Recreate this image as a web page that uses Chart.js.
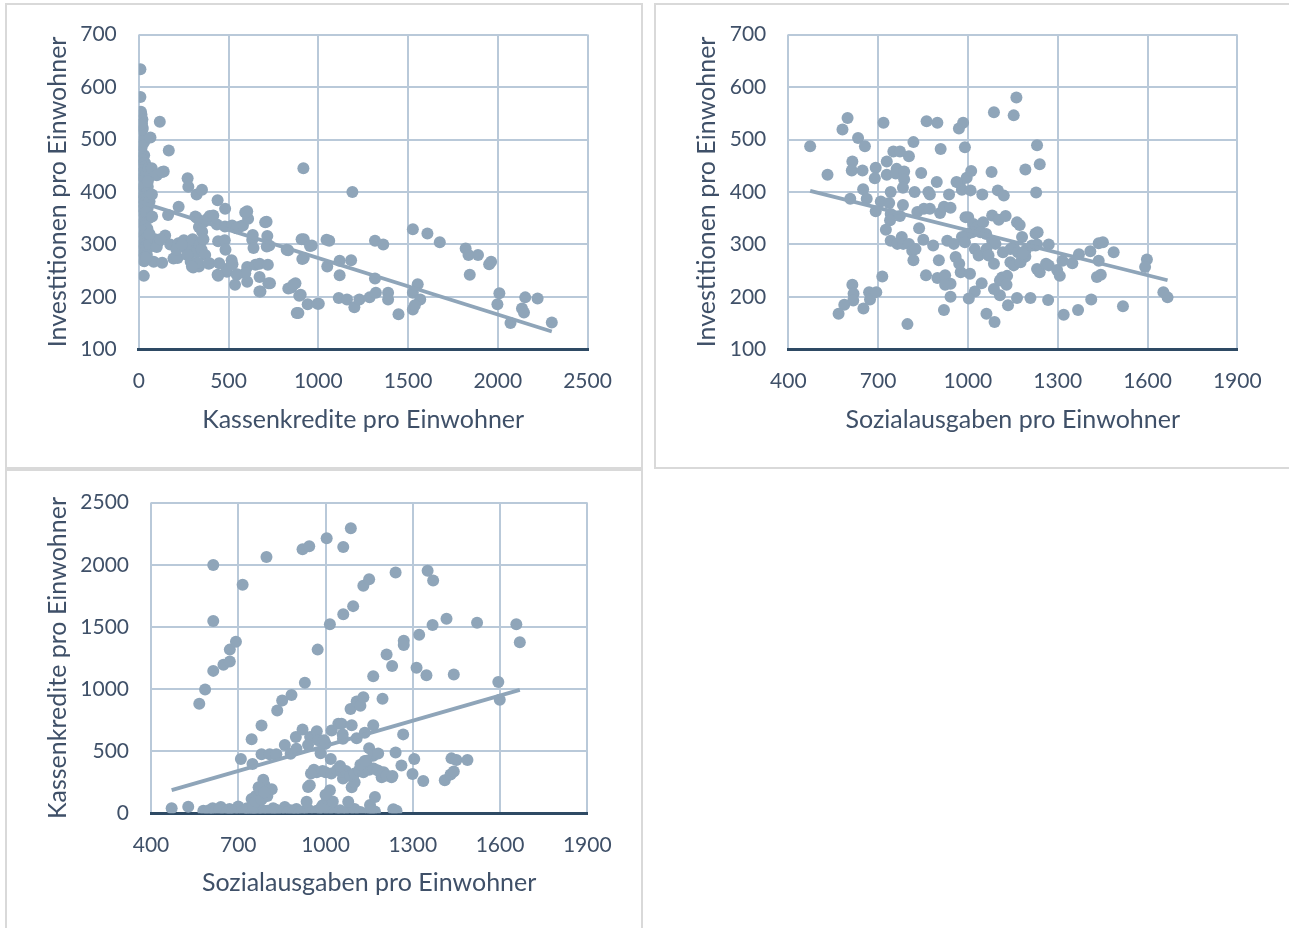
<!DOCTYPE html>
<html><head><meta charset="utf-8">
<script src="https://cdn.jsdelivr.net/npm/chart.js@4"></script>
<style>
html,body{margin:0;padding:0;background:#fff;}
body{width:1289px;height:928px;position:relative;overflow:hidden;}
.panel{position:absolute;box-sizing:border-box;border:2px solid #d9d9d9;}
canvas{position:absolute;}
</style></head><body>
<div class="panel" style="left:5px;top:3px;width:638px;height:466px"></div>
<div class="panel" style="left:654px;top:3px;width:640px;height:466px"></div>
<div class="panel" style="left:5px;top:469px;width:638px;height:470px"></div>
<canvas id="c1" style="left:0;top:0"></canvas>
<canvas id="c2" style="left:650px;top:0"></canvas>
<canvas id="c3" style="left:0;top:468px"></canvas>
<script>
// ---- data ----
const xTitle1 = 'Kassenkredite pro Einwohner';
const xTitle2 = 'Sozialausgaben pro Einwohner';
const yTitleInvest = 'Investitionen pro Einwohner';
const yTitleKassen = 'Kassenkredite pro Einwohner';

// Chart 1: [Kassenkredite, Investitionen]
const kassenInvest = [
[9,634],[9,581],[12,553],[15,547],[20,538],[22,522],[18,530],[25,500],[10,490],[14,482],[30,470],[8,465],[20,460],[35,455],[12,450],[25,445],[40,440],[8,435],[18,430],[30,425],[45,420],[10,415],[22,410],[35,405],[5,400],[15,398],[28,392],[40,388],[8,383],[20,378],[33,373],[50,370],[12,365],[25,360],[38,355],[55,350],[10,345],[20,340],[35,335],[48,330],[15,325],[28,318],[42,312],[8,305],[20,300],[35,296],[50,292],[12,288],[25,283],[38,278],[18,272],[30,268],
[5,470],[12,478],[18,462],[26,455],[32,448],[6,442],[15,436],[24,428],[38,432],[50,410],[8,420],[16,405],[28,412],[42,398],[55,392],[10,390],[22,385],[34,380],[46,375],[60,382],[14,372],[26,368],[40,362],[18,488],[30,495],[55,445],[62,430],[12,510],[20,518],[8,528],
[65,504],[117,534],[167,479],[139,439],[72,445],[100,432],[130,438],[73,395],[50,420],[74,353],[60,300],[83,267],[130,265],[147,317],[175,300],[163,356],[90,310],[110,305],[60,320],[100,295],[120,310],[28,240],[45,280],[40,275],
[222,372],[272,426],[276,410],[322,395],[352,404],[221,302],[251,308],[303,297],[335,333],[353,324],[322,351],[379,348],[315,353],[193,273],[216,274],[289,267],[335,258],[394,264],[303,256],[290,296],[210,290],[265,293],[240,300],[300,310],[320,285],[340,300],[350,290],[360,310],[370,280],[330,265],[270,280],[296,258],[389,263],[439,242],[491,248],
[439,384],[481,368],[395,354],[442,306],[479,308],[483,290],[488,253],[442,240],[448,264],[415,355],[364,343],[435,338],[480,334],[520,336],[565,334],
[545,331],[580,336],[604,363],[609,349],[712,343],[716,316],[727,298],[832,289],[919,310],[964,298],[919,274],[889,169],[902,204],[941,186],[1003,187],[850,218],[873,226],[632,309],[639,293],[604,257],[650,261],[673,263],[719,261],[731,226],[678,210],[673,238],[604,229],[548,243],[536,223],[517,270],[522,262],[917,445],[593,361],[704,342],[635,318],[713,296],[824,290],[907,310],[954,297],[672,210],[722,226],[833,216],[861,223],[894,202],[880,169],[996,187],[593,245],[546,242],
[1061,307],[1119,269],[1183,270],[1190,400],[1119,241],[1114,198],[1160,195],[1201,180],[1229,195],[1286,199],[1321,208],[1316,307],[1362,300],[1316,235],[1389,208],[1389,195],[1447,167],[1527,329],[1608,321],[1677,304],[1527,208],[1554,224],[1568,195],[1527,176],[1538,184],[1821,292],[1837,280],[1890,280],[1844,242],[1952,262],[1963,267],[2009,207],[1998,186],[2071,150],[2135,178],[2146,170],[2153,199],[2222,197],[2301,151],[1050,258],[1046,309],[911,272]
];

// Chart 2: [Sozialausgaben, Investitionen]
const sozialInvest = [
[473,487],[531,433],[581,519],[598,541],[633,503],[656,487],[614,458],[612,441],[648,441],[692,446],[689,426],[718,532],[729,458],[729,433],[751,477],[773,477],[803,468],[818,495],[762,444],[759,435],[787,439],[787,424],[783,408],[844,436],[862,535],[898,532],[909,482],[970,521],[984,532],[990,485],[896,419],[868,400],[873,395],[822,400],[742,400],[650,405],[607,387],[662,387],[709,382],[737,379],[783,375],[692,363],[742,358],[740,346],[773,354],[831,362],[853,368],[873,368],[907,360],[920,372],[942,370],[937,395],[973,416],[996,427],[1011,440],[980,404],[1009,403],[962,419],[1048,395],[1079,438],[1100,403],[1120,393],[1087,552],[1153,546],[1162,580],[1231,489],[1240,453],[1228,399],[1192,443],
[992,352],[1001,352],[1018,339],[1031,333],[1051,342],[1014,323],[998,320],[980,314],[1042,323],[1061,320],[1081,355],[1103,347],[1126,354],[1164,342],[1173,337],[1081,307],[1092,301],[1117,285],[1142,291],[1153,295],[1181,314],[1192,288],[1142,266],[1153,260],[1176,266],[1192,277],[1226,298],[1233,323],[1226,321],[1270,300],[1231,253],[1240,247],[1261,263],[1270,260],[1298,251],[1307,240],[1316,269],[1349,264],[1371,281],[1409,287],[1437,302],[1451,304],[1487,285],[1437,269],[1431,238],[1444,242],[1598,271],[1592,257],[1653,209],[1667,199],[1518,182],[1412,195],[1368,175],[1320,166],[1268,194],[1209,198],[1164,198],[1134,184],[1107,203],[1087,215],[1062,168],[1089,152],[1046,226],[1023,210],[1003,197],[942,200],[920,175],[860,241],[898,236],[924,241],[942,225],[924,223],[903,270],[959,276],[976,247],[1007,244],[971,263],
[714,239],[614,223],[618,206],[617,193],[587,185],[568,168],[651,178],[670,209],[673,195],[694,209],[798,148],[726,328],[742,307],[779,314],[764,301],[784,301],[803,301],[814,288],[825,291],[818,270],[837,331],[851,309],[884,298],[931,307],[953,301],[990,304],[1023,291],[1036,279],[1062,291],[1069,279],[1087,263],[1114,237],[1131,240],[1107,231],[1129,223],[1167,285],[1184,282],[1214,298],[1231,300]
];

// Chart 3: [Sozialausgaben, Kassenkredite]
const sozialKassen = [
[471,40],[528,53],[580,20],[600,25],[612,40],[640,50],[655,20],[670,35],[690,30],[700,55],[720,25],[740,15],[750,35],[760,10],[780,30],[800,20],[820,40],[840,15],[860,50],[880,25],[900,35],[920,15],[940,30],[970,20],[990,10],[1010,30],[1030,15],[1050,25],[1080,20],[1100,35],[1120,10],[1160,25],[1170,15],[1233,32],[1244,21],[1060,10],[985,45],[1000,60],[1153,66],[1153,26],
[590,10],[620,15],[635,30],[660,8],[680,18],[710,8],[730,40],[745,5],[765,25],[790,8],[810,12],[830,28],[850,5],[870,10],[890,18],[910,5],
[746,115],[760,140],[775,185],[790,230],[786,270],[770,210],[815,193],[750,60],[760,95],[780,110],[800,140],[790,170],[935,93],[946,225],[940,212],[990,65],[1005,120],[1015,185],[1025,95],[1000,150],[1078,93],[1170,132],[1090,210],[1100,250],[1060,280],[1193,291],[1227,291],[1336,259],[1410,265],[1430,312],[1441,336],[1299,317],
[709,437],[749,397],[780,476],[808,476],[831,476],[970,330],[990,340],[1000,330],[1020,320],[1040,350],[1055,335],[1070,340],[1085,300],[1100,320],[1115,345],[1130,330],[1150,350],[1165,360],[1180,345],[1200,330],[1210,305],[1230,300],[1018,437],[983,484],[1150,524],[1164,463],[1181,481],[1141,423],[1241,489],[1261,384],[1305,437],[1433,442],[1450,429],[1488,429],[1050,380],[1120,390],[1135,420],[960,350],[950,320],
[746,595],[780,706],[834,828],[851,907],[883,952],[929,1050],[860,550],[898,614],[921,675],[947,614],[970,661],[975,587],[995,587],[1021,667],[1044,720],[1055,720],[1059,635],[1086,839],[1107,899],[1120,865],[1130,934],[1090,709],[1107,603],[1135,648],[1164,709],[1196,921],[1267,635],[1599,913],[880,480],[900,520],[940,550],[1000,560],[1060,600],
[566,881],[586,997],[614,1146],[614,1548],[614,1997],[649,1196],[671,1222],[671,1317],[692,1381],[715,1839],[797,2063],[921,2124],[944,2148],[1004,2214],[1061,2143],[1087,2294],[973,1317],[1015,1521],[1061,1601],[1095,1667],[1130,1831],[1150,1884],[1241,1937],[1351,1952],[1370,1873],[1368,1516],[1416,1566],[1521,1534],[1656,1521],[1668,1376],[1322,1437],[1269,1389],[1269,1354],[1210,1278],[1229,1185],[1313,1172],[1347,1111],[1441,1116],[1594,1056],[1164,1103]
];

// ---- styling ----
const PT = '#8FA5B9';
const GRID = '#B9C9D9';
const AXIS = '#2E4A64';
const TXT = '#3F5068';
const FONT = 'Lato';

function trend(pts){
  const n = pts.length;
  let sx=0,sy=0,sxx=0,sxy=0,mn=Infinity,mx=-Infinity;
  for(const [x,y] of pts){sx+=x;sy+=y;sxx+=x*x;sxy+=x*y;mn=Math.min(mn,x);mx=Math.max(mx,x);}
  const b=(n*sxy-sx*sy)/(n*sxx-sx*sx), a=(sy-b*sx)/n;
  return [{x:mn,y:a+b*mn},{x:mx,y:a+b*mx}];
}

function make(id, w, h, pts, cfg){
  const cv = document.getElementById(id);
  cv.width = w; cv.height = h; cv.style.width = w+'px'; cv.style.height = h+'px';
  new Chart(cv, {
    type:'scatter',
    data:{datasets:[
      {type:'line', data: trend(pts), borderColor:PT, borderWidth:3.8, pointRadius:0, fill:false, order:1},
      {data: pts.map(([x,y])=>({x,y})), pointRadius:6, pointHoverRadius:6, backgroundColor:PT, borderWidth:0, order:2}
    ]},
    options:{
      responsive:false, animation:false, devicePixelRatio:1,
      layout:{padding:{left:0, top:cfg.top, right:cfg.right, bottom:0}},
      plugins:{legend:{display:false}, tooltip:{enabled:false}},
      scales:{
        x:{type:'linear', min:cfg.xmin, max:cfg.xmax,
           ticks:{stepSize:cfg.xstep, color:TXT, font:{family:FONT,size:21}, padding:19, maxRotation:0, autoSkip:false, callback:(v)=>String(v)},
           grid:{color:GRID, lineWidth:2, drawTicks:false},
           border:{display:true, color:AXIS, width:3},
           title:{display:true, text:cfg.xt, color:TXT, font:{family:FONT,size:25}, padding:{top:0,bottom:cfg.xtb}},
           afterFit:(s)=>{s.height = cfg.xh;}},
        y:{type:'linear', min:cfg.ymin, max:cfg.ymax,
           ticks:{stepSize:cfg.ystep, color:TXT, font:{family:FONT,size:21}, padding:22, autoSkip:false, callback:(v)=>String(v)},
           grid:{color:GRID, lineWidth:2, drawTicks:false},
           border:{display:false},
           title:{display:true, text:cfg.yt, color:TXT, font:{family:FONT,size:25}, padding:{top:cfg.ytp,bottom:0}},
           afterFit:(s)=>{s.width = cfg.yw;}}
      }
    }
  });
}

make('c1', 645, 470, kassenInvest, {top:34.5, right:57.5, xh:120.7, yw:138.8, xmin:0, xmax:2500, xstep:500, ymin:100, ymax:700, ystep:100, xt:xTitle1, yt:yTitleInvest, xtb:35, ytp:43});
make('c2', 639, 470, sozialInvest, {top:34.5, right:51.7, xh:120.7, yw:138.3, xmin:400, xmax:1900, xstep:300, ymin:100, ymax:700, ystep:100, xt:xTitle2, yt:yTitleInvest, xtb:35, ytp:42});
make('c3', 645, 460, sozialKassen, {top:30.3, right:57.7, xh:114.7, yw:151, xmin:400, xmax:1900, xstep:300, ymin:0, ymax:2500, ystep:500, xt:xTitle2, yt:yTitleKassen, xtb:30, ytp:43});
</script>
</body></html>
